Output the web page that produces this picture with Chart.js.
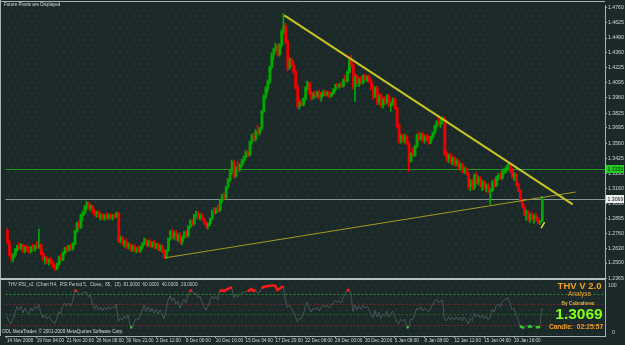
<!DOCTYPE html>
<html>
<head>
<meta charset="utf-8">
<title>EURUSD H4</title>
<script src="https://cdn.jsdelivr.net/npm/chart.js@4/dist/chart.umd.min.js"></script>
<style>
html, body { margin: 0; padding: 0; background: #1b2a28; }
#caja { width: 625px; height: 345px; }
</style>
</head>
<body>
<div id="caja"><canvas id="grafica" width="625" height="345"></canvas></div>
<script>
// H4 bars, 14 Nov 2008 -> 20 Jan 2009
var opens = [
1.2790,1.2690,1.2575,1.2540,1.2570,1.2615,1.2650,1.2630,1.2660,1.2605,
1.2640,1.2615,1.2600,1.2640,1.2625,1.2650,1.2640,1.2660,1.2585,1.2530,
1.2545,1.2505,1.2530,1.2500,1.2470,1.2450,1.2490,1.2550,1.2530,1.2590,
1.2630,1.2615,1.2650,1.2625,1.2670,1.2780,1.2850,1.2815,1.2920,1.2945,
1.2995,1.3030,1.2985,1.3005,1.2950,1.2925,1.2950,1.2910,1.2925,1.2895,
1.2920,1.2900,1.2925,1.2905,1.2920,1.2910,1.2940,1.2700,1.2725,1.2670,
1.2690,1.2645,1.2665,1.2620,1.2650,1.2610,1.2630,1.2605,1.2640,1.2670,
1.2705,1.2660,1.2690,1.2650,1.2680,1.2640,1.2665,1.2620,1.2650,1.2600,
1.2555,1.2610,1.2710,1.2775,1.2735,1.2765,1.2715,1.2745,1.2685,1.2730,
1.2770,1.2740,1.2820,1.2870,1.2845,1.2920,1.2945,1.2900,1.2925,1.2890,
1.2850,1.2825,1.2845,1.2890,1.2960,1.2945,1.2980,1.2965,1.3050,1.3095,
1.3075,1.3170,1.3235,1.3305,1.3395,1.3270,1.3345,1.3330,1.3365,1.3405,
1.3440,1.3480,1.3455,1.3570,1.3625,1.3595,1.3665,1.3650,1.3690,1.3840,
1.3970,1.4040,1.4100,1.4230,1.4340,1.4385,1.4420,1.4345,1.4425,1.4545,
1.4600,1.4460,1.4230,1.4300,1.4250,1.4195,1.4060,1.3890,1.3920,1.3900,
1.3950,1.4045,1.4095,1.4000,1.3960,1.3995,1.3975,1.4010,1.3965,1.3990,
1.4015,1.3990,1.4010,1.3975,1.4000,1.4030,1.4070,1.4060,1.4075,1.4065,
1.4120,1.4110,1.4185,1.4290,1.4250,1.4060,1.4150,1.4085,1.4125,1.4095,
1.4155,1.4120,1.4145,1.4110,1.4045,1.3970,1.4050,1.3920,1.3980,1.3895,
1.3945,1.3915,1.3975,1.3890,1.3915,1.3945,1.3870,1.3720,1.3580,1.3625,
1.3585,1.3620,1.3555,1.3400,1.3470,1.3455,1.3530,1.3625,1.3600,1.3640,
1.3585,1.3615,1.3595,1.3570,1.3610,1.3650,1.3710,1.3745,1.3735,1.3760,
1.3775,1.3470,1.3420,1.3450,1.3395,1.3425,1.3375,1.3405,1.3345,1.3370,
1.3310,1.3335,1.3290,1.3175,1.3225,1.3165,1.3275,1.3215,1.3250,1.3185,
1.3215,1.3160,1.3190,1.3135,1.3140,1.3215,1.3185,1.3255,1.3280,1.3250,
1.3310,1.3330,1.3345,1.3370,1.3320,1.3265,1.3285,1.3195,1.3140,1.3055,
1.3000,1.2935,1.2955,1.2890,1.2920,1.2895,1.2915,1.2885,1.2860,1.2870
];
var highs = [
1.2805,1.2700,1.2600,1.2585,1.2630,1.2660,1.2680,1.2672,1.2665,1.2650,
1.2660,1.2645,1.2650,1.2668,1.2660,1.2690,1.2800,1.2670,1.2600,1.2560,
1.2555,1.2540,1.2550,1.2520,1.2490,1.2500,1.2560,1.2575,1.2600,1.2640,
1.2650,1.2660,1.2665,1.2680,1.2790,1.2860,1.2870,1.2930,1.2960,1.3010,
1.3045,1.3040,1.3020,1.3010,1.2975,1.2960,1.2965,1.2935,1.2940,1.2930,
1.2945,1.2935,1.2940,1.2930,1.2935,1.2950,1.2950,1.2740,1.2735,1.2700,
1.2710,1.2680,1.2675,1.2660,1.2665,1.2640,1.2650,1.2650,1.2680,1.2720,
1.2715,1.2700,1.2705,1.2690,1.2700,1.2675,1.2680,1.2660,1.2660,1.2615,
1.2620,1.2720,1.2790,1.2800,1.2780,1.2790,1.2760,1.2770,1.2740,1.2780,
1.2790,1.2830,1.2880,1.2890,1.2930,1.2960,1.2960,1.2935,1.2945,1.2900,
1.2870,1.2860,1.2900,1.2970,1.2990,1.2990,1.3015,1.3060,1.3110,1.3120,
1.3180,1.3250,1.3320,1.3410,1.3410,1.3360,1.3400,1.3380,1.3420,1.3450,
1.3495,1.3500,1.3580,1.3640,1.3650,1.3680,1.3720,1.3700,1.3850,1.3985,
1.4060,1.4120,1.4240,1.4360,1.4400,1.4445,1.4440,1.4440,1.4560,1.4708,
1.4620,1.4475,1.4320,1.4315,1.4290,1.4205,1.4075,1.3930,1.3945,1.3960,
1.4060,1.4110,1.4100,1.4030,1.4010,1.4025,1.4020,1.4030,1.4005,1.4025,
1.4030,1.4020,1.4020,1.4010,1.4040,1.4080,1.4090,1.4085,1.4095,1.4130,
1.4160,1.4200,1.4300,1.4340,1.4260,1.4170,1.4165,1.4140,1.4150,1.4165,
1.4170,1.4160,1.4165,1.4125,1.4080,1.4060,1.4065,1.3990,1.4000,1.3960,
1.3970,1.3990,1.3995,1.3930,1.3960,1.3960,1.3880,1.3730,1.3640,1.3640,
1.3640,1.3630,1.3565,1.3480,1.3520,1.3540,1.3640,1.3660,1.3650,1.3655,
1.3630,1.3640,1.3630,1.3620,1.3660,1.3720,1.3760,1.3806,1.3770,1.3790,
1.3790,1.3490,1.3465,1.3470,1.3440,1.3445,1.3420,1.3415,1.3385,1.3385,
1.3350,1.3345,1.3300,1.3240,1.3240,1.3290,1.3300,1.3270,1.3265,1.3230,
1.3230,1.3200,1.3205,1.3160,1.3230,1.3240,1.3270,1.3290,1.3300,1.3320,
1.3340,1.3360,1.3380,1.3378,1.3340,1.3300,1.3295,1.3210,1.3150,1.3065,
1.3020,1.2970,1.2965,1.2935,1.2950,1.2930,1.2940,1.2905,1.2880,1.3090
];
var lows = [
1.2675,1.2560,1.2520,1.2510,1.2555,1.2600,1.2620,1.2615,1.2595,1.2590,
1.2600,1.2585,1.2590,1.2610,1.2605,1.2630,1.2630,1.2570,1.2520,1.2490,
1.2495,1.2480,1.2490,1.2460,1.2433,1.2440,1.2480,1.2520,1.2520,1.2580,
1.2600,1.2605,1.2615,1.2615,1.2660,1.2770,1.2800,1.2805,1.2880,1.2930,
1.2970,1.2975,1.2960,1.2940,1.2915,1.2905,1.2900,1.2880,1.2885,1.2880,
1.2890,1.2885,1.2890,1.2880,1.2895,1.2900,1.2680,1.2680,1.2660,1.2640,
1.2630,1.2625,1.2610,1.2600,1.2600,1.2590,1.2595,1.2595,1.2625,1.2660,
1.2650,1.2645,1.2640,1.2640,1.2630,1.2625,1.2610,1.2605,1.2590,1.2540,
1.2538,1.2600,1.2700,1.2720,1.2710,1.2700,1.2690,1.2670,1.2660,1.2715,
1.2730,1.2730,1.2805,1.2830,1.2835,1.2895,1.2890,1.2880,1.2880,1.2840,
1.2810,1.2800,1.2830,1.2880,1.2935,1.2935,1.2955,1.2955,1.3030,1.3060,
1.3065,1.3160,1.3220,1.3290,1.3250,1.3255,1.3320,1.3310,1.3350,1.3385,
1.3430,1.3440,1.3445,1.3550,1.3580,1.3580,1.3640,1.3630,1.3680,1.3830,
1.3950,1.4010,1.4085,1.4215,1.4300,1.4370,1.4330,1.4330,1.4410,1.4530,
1.4440,1.4200,1.4210,1.4230,1.4180,1.4040,1.3870,1.3860,1.3885,1.3890,
1.3940,1.4030,1.3990,1.3940,1.3950,1.3960,1.3965,1.3950,1.3930,1.3975,
1.3980,1.3975,1.3960,1.3965,1.3990,1.4020,1.4050,1.4045,1.4055,1.4055,
1.4100,1.4100,1.4175,1.4230,1.4040,1.3930,1.4070,1.4060,1.4080,1.4085,
1.4110,1.4105,1.4100,1.4030,1.3950,1.3960,1.3900,1.3900,1.3880,1.3870,
1.3900,1.3905,1.3880,1.3840,1.3895,1.3860,1.3700,1.3560,1.3560,1.3570,
1.3560,1.3545,1.3310,1.3390,1.3445,1.3440,1.3520,1.3580,1.3585,1.3570,
1.3560,1.3580,1.3550,1.3555,1.3595,1.3640,1.3690,1.3720,1.3700,1.3730,
1.3450,1.3400,1.3390,1.3380,1.3370,1.3360,1.3360,1.3330,1.3320,1.3300,
1.3290,1.3280,1.3160,1.3140,1.3150,1.3150,1.3200,1.3190,1.3170,1.3140,
1.3150,1.3130,1.3120,1.3019,1.3130,1.3170,1.3175,1.3230,1.3240,1.3240,
1.3285,1.3300,1.3320,1.3300,1.3250,1.3230,1.3180,1.3130,1.3040,1.2985,
1.2920,1.2880,1.2870,1.2860,1.2880,1.2850,1.2870,1.2845,1.2840,1.2865
];
var closes = [
1.2690,1.2575,1.2540,1.2570,1.2615,1.2650,1.2630,1.2660,1.2605,1.2640,
1.2615,1.2600,1.2640,1.2625,1.2650,1.2640,1.2660,1.2585,1.2530,1.2545,
1.2505,1.2530,1.2500,1.2470,1.2450,1.2490,1.2550,1.2530,1.2590,1.2630,
1.2615,1.2650,1.2625,1.2670,1.2780,1.2850,1.2815,1.2920,1.2945,1.2995,
1.3030,1.2985,1.3005,1.2950,1.2925,1.2950,1.2910,1.2925,1.2895,1.2920,
1.2900,1.2925,1.2905,1.2920,1.2910,1.2940,1.2700,1.2725,1.2670,1.2690,
1.2645,1.2665,1.2620,1.2650,1.2610,1.2630,1.2605,1.2640,1.2670,1.2705,
1.2660,1.2690,1.2650,1.2680,1.2640,1.2665,1.2620,1.2650,1.2600,1.2555,
1.2610,1.2710,1.2775,1.2735,1.2765,1.2715,1.2745,1.2685,1.2730,1.2770,
1.2740,1.2820,1.2870,1.2845,1.2920,1.2945,1.2900,1.2925,1.2890,1.2850,
1.2825,1.2845,1.2890,1.2960,1.2945,1.2980,1.2965,1.3050,1.3095,1.3075,
1.3170,1.3235,1.3305,1.3395,1.3270,1.3345,1.3330,1.3365,1.3405,1.3440,
1.3480,1.3455,1.3570,1.3625,1.3595,1.3665,1.3650,1.3690,1.3840,1.3970,
1.4040,1.4100,1.4230,1.4340,1.4385,1.4420,1.4345,1.4425,1.4545,1.4600,
1.4460,1.4230,1.4300,1.4250,1.4195,1.4060,1.3890,1.3920,1.3900,1.3950,
1.4045,1.4095,1.4000,1.3960,1.3995,1.3975,1.4010,1.3965,1.3990,1.4015,
1.3990,1.4010,1.3975,1.4000,1.4030,1.4070,1.4060,1.4075,1.4065,1.4120,
1.4110,1.4185,1.4290,1.4250,1.4060,1.4150,1.4085,1.4125,1.4095,1.4155,
1.4120,1.4145,1.4110,1.4045,1.3970,1.4050,1.3920,1.3980,1.3895,1.3945,
1.3915,1.3975,1.3890,1.3915,1.3945,1.3870,1.3720,1.3580,1.3625,1.3585,
1.3620,1.3555,1.3400,1.3470,1.3455,1.3530,1.3625,1.3600,1.3640,1.3585,
1.3615,1.3595,1.3570,1.3610,1.3650,1.3710,1.3745,1.3735,1.3760,1.3775,
1.3470,1.3420,1.3450,1.3395,1.3425,1.3375,1.3405,1.3345,1.3370,1.3310,
1.3335,1.3290,1.3175,1.3225,1.3165,1.3275,1.3215,1.3250,1.3185,1.3215,
1.3160,1.3190,1.3135,1.3140,1.3215,1.3185,1.3255,1.3280,1.3250,1.3310,
1.3330,1.3345,1.3370,1.3320,1.3265,1.3285,1.3195,1.3140,1.3055,1.3000,
1.2935,1.2955,1.2890,1.2920,1.2895,1.2915,1.2885,1.2860,1.2870,1.3069
];
// THV RSI_v2 (period 5)
var rsi = [
35,25,20,30,42,55,48,56,42,52,
45,40,52,46,55,50,60,42,32,38,
30,36,30,24,20,30,45,40,55,62,
56,62,55,65,86,88,78,80,82,84,
84,75,78,60,50,58,48,54,46,54,
48,55,50,55,52,60,25,32,28,36,
30,38,14,13,24,32,28,38,48,58,
45,54,44,52,42,50,40,48,40,30,
48,68,76,66,72,60,66,52,62,70,
62,76,88,86,80,82,72,76,65,55,
48,55,66,76,70,75,68,86,88,86,
88,90,92,94,72,80,74,78,82,83,
84,86,88,90,86,88,82,84,92,94,
95,96,96,97,97,96,88,90,94,95,
70,52,58,52,45,35,25,32,30,38,
55,64,50,44,52,48,54,46,52,58,
54,58,52,56,62,68,64,66,62,72,
80,86,90,80,45,58,48,56,50,58,
52,56,50,40,32,48,34,44,30,40,
36,46,34,40,46,35,26,20,30,26,
30,14,13,30,28,38,52,48,55,46,
52,48,44,52,58,66,70,62,66,68,
30,26,34,28,34,28,34,28,34,26,
34,28,20,32,26,42,34,40,32,38,
30,36,28,34,50,44,56,60,54,64,
68,70,72,62,48,52,38,30,16,14,
12,18,14,16,14,17,14,13,15,52
];
var rsiLevels = [81, 60, 40, 19];
var priceTicks = [1.4760,1.4625,1.4490,1.4360,1.4225,1.4095,1.3960,1.3825,1.3695,1.3560,
                  1.3425,1.3295,1.3160,1.3030,1.2895,1.2760,1.2630,1.2500,1.2365];
var timeTickBars = [0,15,30,45,60,75,90,105,120,135,150,165,180,195,210,225,240,255];
var timeLabels = ["14 Nov 2008","19 Nov 04:00","21 Nov 20:00","26 Nov 08:00","30 Nov 21:00",
                  "3 Dec 12:00","8 Dec 00:00","10 Dec 16:00","15 Dec 04:00","17 Dec 20:00",
                  "22 Dec 08:00","26 Dec 00:00","30 Dec 20:00","5 Jan 08:00","8 Jan 08:00",
                  "12 Jan 12:00","15 Jan 04:00","19 Jan 16:00"];
var pivotPrice = 1.3335;
var trendDownX = [139.5, 284.5];
var trendDownY = [1.4690, 1.3019];
var trendUpX = [79.5, 286];
var trendUpY = [1.2546, 1.3128];
var arrowX = [269.5];
var arrowY = [1.2836];

var fuente = "'Liberation Sans', Arial, sans-serif";
var grafica;

function CargarGrafica() {
    var ultimo = closes[closes.length - 1];
    var mechas = [];
    var cuerpos = [];
    var coloresVelas = [];
    for (var i = 0; i < closes.length; i++) {
        mechas.push({ x: i, y: [lows[i], highs[i]] });
        // body drawn 2px wide, nudged half a pixel so it lands on whole pixels
        cuerpos.push({ x: i + 0.25, y: [Math.min(opens[i], closes[i]), Math.max(opens[i], closes[i])] });
        coloresVelas.push(closes[i] >= opens[i] ? '#00a800' : '#ee0000');
    }
    var lineaRsi = rsi.map(function (v, i) { return { x: i, y: v }; });
    var rsiAlto = rsi.map(function (v, i) { return { x: i, y: v >= 85 ? v : null }; });
    var rsiBajo = rsi.map(function (v, i) { return { x: i, y: v <= 16 ? v : null }; });

    var fondo = {
        id: 'fondo',
        beforeDraw: function (chart) {
            var ctx = chart.ctx, a = chart.chartArea;
            ctx.save();
            ctx.fillStyle = '#1b2a28';
            ctx.fillRect(0, 0, chart.width, chart.height);
            // MT4 dotted grid
            var fila = 0;
            for (var y = a.top + 4; y < a.bottom - 1; y += 6) {
                for (var x = a.left + (fila % 2 ? 2 : 5); x < a.right - 1; x += 7) {
                    ctx.fillStyle = ((x + fila) % 3 === 0) ? 'rgba(120,45,45,0.55)' : 'rgba(95,110,110,0.5)';
                    ctx.fillRect(x, y, 1, 1);
                }
                fila++;
            }
            ctx.restore();
        },
        beforeDatasetsDraw: function (chart) {
            var ctx = chart.ctx, a = chart.chartArea;
            var ys = chart.scales.y, rs = chart.scales.yRsi;
            ctx.save();
            ctx.lineWidth = 1;
            var py = Math.round(ys.getPixelForValue(pivotPrice)) + 0.5;
            ctx.strokeStyle = '#1e9a1e';
            ctx.beginPath(); ctx.moveTo(a.left, py); ctx.lineTo(a.right, py); ctx.stroke();
            var by = Math.round(ys.getPixelForValue(ultimo)) + 0.5;
            ctx.strokeStyle = '#8a9292';
            ctx.beginPath(); ctx.moveTo(a.left, by); ctx.lineTo(a.right, by); ctx.stroke();
            var colNiv = ['#23902a', '#7a2222', '#1f6a1f', '#8a2222'];
            ctx.setLineDash([2, 2]);
            rsiLevels.forEach(function (lv, k) {
                var ly = Math.round(rs.getPixelForValue(lv)) + 0.5;
                ctx.strokeStyle = colNiv[k];
                ctx.beginPath(); ctx.moveTo(a.left, ly); ctx.lineTo(a.right, ly); ctx.stroke();
            });
            ctx.restore();
        },
        afterDraw: function (chart) {
            var ctx = chart.ctx, a = chart.chartArea;
            var ys = chart.scales.y, rs = chart.scales.yRsi;
            ctx.save();
            // frames
            ctx.strokeStyle = '#a8b0b0';
            ctx.lineWidth = 1;
            ctx.beginPath();
            ctx.moveTo(0, 1.5); ctx.lineTo(a.right, 1.5);
            ctx.moveTo(0.5, 0); ctx.lineTo(0.5, a.bottom);
            ctx.stroke();
            ctx.lineWidth = 2;
            ctx.strokeStyle = '#b8c0c0';
            ctx.beginPath(); ctx.moveTo(0, 279); ctx.lineTo(a.right, 279); ctx.stroke();

            ctx.textBaseline = 'middle';
            ctx.textAlign = 'left';
            ctx.font = '4.6px ' + fuente;
            ctx.fillStyle = '#d8dcdc';
            ctx.fillText('Future Pivots are Displayed', 4, 5);
            ctx.fillStyle = '#c4cccc';
            ctx.fillText('THV RSI_v2  (Chart H4,  RSI Period 5,  Close,  85,  15)  81.0000  60.0000  40.0000  19.0000', 8, 285);
            ctx.fillStyle = '#d8dcdc';
            ctx.fillText('ODL MetaTrader, \u00a9 2001-2009 MetaQuotes Software Corp.', 2, 332);

            // price boxes on the axis
            ctx.font = '5.2px ' + fuente;
            var py = Math.round(ys.getPixelForValue(pivotPrice));
            ctx.fillStyle = '#22cc22';
            ctx.fillRect(606, py - 4, 18, 8);
            ctx.fillStyle = '#0b240b';
            ctx.fillText(pivotPrice.toFixed(4), 607.5, py + 0.5);
            var by = Math.round(ys.getPixelForValue(ultimo));
            ctx.fillStyle = '#eceeee';
            ctx.fillRect(606, by - 4, 18, 8);
            ctx.fillStyle = '#111';
            ctx.fillText(ultimo.toFixed(4), 607.5, by + 0.5);

            // RSI scale labels
            ctx.fillStyle = '#c8d0d0';
            ctx.fillText('100', 608, rs.getPixelForValue(100) + 1.5);
            ctx.fillText('0', 612, rs.getPixelForValue(0) - 1.5);

            // THV info box
            ctx.textAlign = 'center';
            ctx.fillStyle = '#f2a21e';
            ctx.font = 'bold 9.5px ' + fuente;
            ctx.fillText('THV V 2.0', 579.5, 286.5);
            ctx.font = '6.5px ' + fuente;
            ctx.fillText('Analyse', 579.5, 294.5);
            ctx.font = 'bold 4.8px ' + fuente;
            ctx.fillStyle = '#e8b44a';
            ctx.fillText('By Cobraforex', 578, 303.5);
            ctx.font = 'bold 15.5px ' + fuente;
            ctx.fillStyle = '#84ff10';
            ctx.fillText(ultimo.toFixed(4), 579, 314.5);
            ctx.font = 'bold 6.6px ' + fuente;
            ctx.fillStyle = '#f2a21e';
            ctx.fillText('Candle:  02:25:57', 576, 327);
            ctx.restore();
        }
    };

    var datos = {
        type: 'bar',
        data: {
            datasets: [{
                type: 'line',
                data: rsiAlto,
                yAxisID: 'yRsi',
                borderColor: '#ff1a1a',
                borderWidth: 2.5,
                pointRadius: 0,
                spanGaps: false,
                order: 0
            }, {
                type: 'line',
                data: rsiBajo,
                yAxisID: 'yRsi',
                borderColor: '#2ed12e',
                borderWidth: 2.5,
                pointRadius: 0,
                spanGaps: false,
                order: 0
            }, {
                type: 'line',
                data: trendDownX.map(function (x, k) { return { x: x, y: trendDownY[k] }; }),
                yAxisID: 'y',
                borderColor: '#c9c422',
                borderWidth: 2,
                pointRadius: 0,
                order: 1
            }, {
                type: 'line',
                data: trendUpX.map(function (x, k) { return { x: x, y: trendUpY[k] }; }),
                yAxisID: 'y',
                borderColor: '#a39a26',
                borderWidth: 1,
                pointRadius: 0,
                order: 1
            }, {
                type: 'line',
                data: arrowX.map(function (x, k) { return { x: x, y: arrowY[k] }; }),
                yAxisID: 'y',
                showLine: false,
                pointStyle: 'line',
                rotation: -60,
                pointRadius: 3.5,
                pointBorderColor: '#e8e020',
                pointBorderWidth: 1.5,
                order: 1
            }, {
                type: 'line',
                data: lineaRsi,
                yAxisID: 'yRsi',
                borderColor: '#465656',
                borderWidth: 1,
                pointRadius: 0,
                order: 2
            }, {
                type: 'bar',
                data: cuerpos,
                yAxisID: 'y',
                backgroundColor: coloresVelas,
                borderWidth: 0,
                barThickness: 2,
                grouped: false,
                order: 3
            }, {
                type: 'bar',
                data: mechas,
                yAxisID: 'y',
                backgroundColor: coloresVelas,
                borderWidth: 0,
                barThickness: 1,
                grouped: false,
                order: 4
            }]
        },
        options: {
            responsive: false,
            devicePixelRatio: 1,
            animation: false,
            events: [],
            layout: { padding: { left: 2, top: 2, right: 0, bottom: 0 } },
            plugins: { legend: { display: false }, tooltip: { enabled: false } },
            scales: {
                x: {
                    type: 'linear',
                    min: -0.75,
                    max: 300.75,
                    offset: false,
                    afterBuildTicks: function (s) {
                        s.ticks = timeTickBars.map(function (v) { return { value: v }; });
                    },
                    afterFit: function (s) {
                        s.height = 9; s.paddingLeft = 0; s.paddingRight = 0;
                    },
                    ticks: {
                        autoSkip: false,
                        maxRotation: 0,
                        minRotation: 0,
                        align: 'start',
                        padding: 0,
                        color: '#d0d6d6',
                        font: { size: 4.6, family: fuente },
                        callback: function (v, idx) { return timeLabels[idx]; }
                    },
                    grid: { drawOnChartArea: false, tickLength: 2, color: '#a8b0b0', offset: false },
                    border: { color: '#a8b0b0' }
                },
                y: {
                    type: 'linear',
                    position: 'right',
                    min: 1.1855,
                    max: 1.47775,
                    afterBuildTicks: function (s) {
                        s.ticks = priceTicks.map(function (v) { return { value: v }; });
                    },
                    afterFit: function (s) {
                        s.width = 20; s.paddingTop = 0; s.paddingBottom = 0;
                    },
                    ticks: {
                        padding: 1,
                        color: '#d0d6d6',
                        font: { size: 5.2, family: fuente },
                        callback: function (v) { return v.toFixed(4); }
                    },
                    grid: { drawOnChartArea: false, tickLength: 2, color: '#a8b0b0' },
                    border: { color: '#a8b0b0' }
                },
                yRsi: {
                    type: 'linear',
                    axis: 'y',
                    position: 'right',
                    display: false,
                    min: -3.96,
                    max: 657.4
                }
            }
        },
        plugins: [fondo]
    };

    grafica = new Chart(document.getElementById('grafica'), datos);
}

CargarGrafica();
</script>
</body>
</html>
